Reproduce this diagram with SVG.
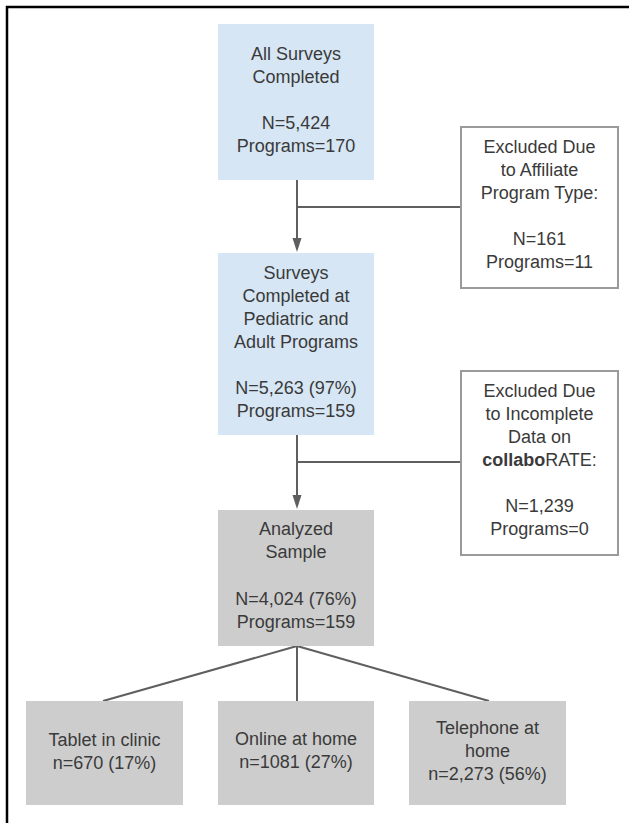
<svg xmlns="http://www.w3.org/2000/svg" width="629" height="823" viewBox="0 0 629 823">
<defs>
<style>
.t{font-family:"Liberation Sans",Arial,sans-serif;font-size:18px;fill:#3a3a3a;text-anchor:middle}
.blue{fill:#d6e6f4}
.grey{fill:#cdcdcd}
.excl{fill:#ffffff;stroke:#9a9a9a;stroke-width:2}
.ln{stroke:#5f5f5f;stroke-width:2;fill:none}
.ah{fill:#5f5f5f}
</style>
</defs>
<rect width="629" height="823" fill="#ffffff"/>
<path d="M7,823 V7 H629" fill="none" stroke="#000" stroke-width="2.5"/>

<g id="connectors">
<path class="ln" d="M297,180 V240"/>
<path class="ah" d="M292.5,238 L301.5,238 L297,252 z"/>
<path class="ln" d="M297,207 H461"/>
<path class="ln" d="M297,435 V496"/>
<path class="ah" d="M292.5,495 L301.5,495 L297,509 z"/>
<path class="ln" d="M297,462 H461"/>
<path class="ln" d="M297,646 L103,701"/>
<path class="ln" d="M297,646 V701"/>
<path class="ln" d="M297,646 L489,701"/>
</g>

<g id="all-surveys">
<rect class="blue" x="218" y="24" width="156" height="156"/>
<text class="t" x="296" y="60">All Surveys</text>
<text class="t" x="296" y="83">Completed</text>
<text class="t" x="296" y="129">N=5,424</text>
<text class="t" x="296" y="152">Programs=170</text>
</g>

<g id="excluded-affiliate">
<rect class="excl" x="461" y="127" width="157" height="161"/>
<text class="t" x="539.5" y="153">Excluded Due</text>
<text class="t" x="539.5" y="176">to Affiliate</text>
<text class="t" x="539.5" y="199">Program Type:</text>
<text class="t" x="539.5" y="245">N=161</text>
<text class="t" x="539.5" y="268">Programs=11</text>
</g>

<g id="pediatric-adult">
<rect class="blue" x="218" y="253" width="156" height="182"/>
<text class="t" x="296" y="279">Surveys</text>
<text class="t" x="296" y="302">Completed at</text>
<text class="t" x="296" y="325">Pediatric and</text>
<text class="t" x="296" y="348">Adult Programs</text>
<text class="t" x="296" y="394">N=5,263 (97%)</text>
<text class="t" x="296" y="417">Programs=159</text>
</g>

<g id="excluded-incomplete">
<rect class="excl" x="461" y="371" width="157" height="184"/>
<text class="t" x="539.5" y="397">Excluded Due</text>
<text class="t" x="539.5" y="420">to Incomplete</text>
<text class="t" x="539.5" y="443">Data on</text>
<text class="t" x="539.5" y="466"><tspan font-weight="bold">collabo</tspan>RATE:</text>
<text class="t" x="539.5" y="512">N=1,239</text>
<text class="t" x="539.5" y="535">Programs=0</text>
</g>

<g id="analyzed-sample">
<rect class="grey" x="218" y="510" width="156" height="136"/>
<text class="t" x="296" y="535">Analyzed</text>
<text class="t" x="296" y="558">Sample</text>
<text class="t" x="296" y="605">N=4,024 (76%)</text>
<text class="t" x="296" y="628">Programs=159</text>
</g>

<g id="tablet-clinic">
<rect class="grey" x="26" y="701" width="157" height="104"/>
<text class="t" x="104.5" y="746">Tablet in clinic</text>
<text class="t" x="104.5" y="769">n=670 (17%)</text>
</g>

<g id="online-home">
<rect class="grey" x="218" y="701" width="156" height="104"/>
<text class="t" x="296" y="745">Online at home</text>
<text class="t" x="296" y="768">n=1081 (27%)</text>
</g>

<g id="telephone-home">
<rect class="grey" x="409" y="701" width="157" height="104"/>
<text class="t" x="487.5" y="734">Telephone at</text>
<text class="t" x="487.5" y="757">home</text>
<text class="t" x="487.5" y="780">n=2,273 (56%)</text>
</g>
</svg>
